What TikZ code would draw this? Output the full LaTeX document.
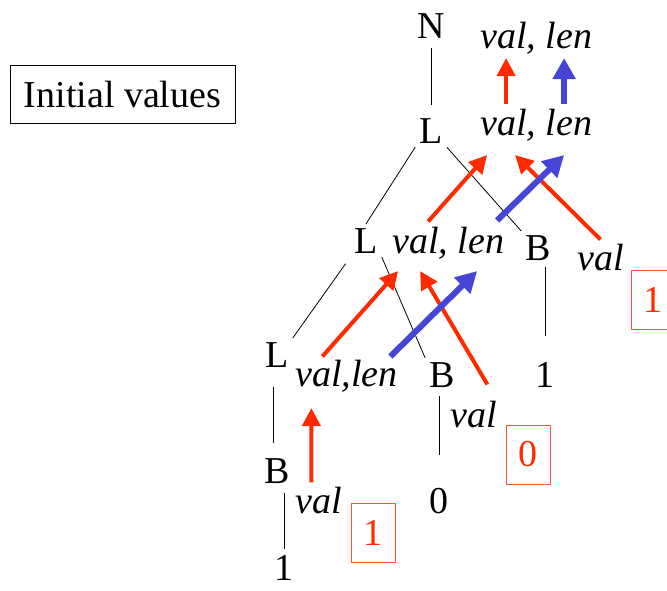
\documentclass[tikz,border=0pt]{standalone}
\usepackage{fontspec}
\setmainfont{Liberation Serif}
\usetikzlibrary{arrows.meta,calc}
\definecolor{hot}{HTML}{FF2A00}
\definecolor{cool}{HTML}{4646D6}
\definecolor{boxred}{HTML}{FF5030}
\tikzset{
  lbl/.style={inner sep=4pt,font=\fontsize{38}{40}\selectfont,anchor=base},
  vv/.style={lbl,font=\fontsize{38}{40}\selectfont\itshape,anchor=base west},
  ibox/.style={draw=black,line width=.8pt,minimum width=225pt,minimum height=58pt,inner sep=0pt,font=\fontsize{38}{40}\selectfont},
  rbox/.style={draw=boxred,line width=.8pt,minimum width=44pt,minimum height=59pt,inner sep=0pt,text=hot,font=\fontsize{38}{40}\selectfont},
  edge/.style={draw=black,line width=.8pt},
  rar/.style={-{Triangle[length=18pt,width=18pt]},draw=hot,line width=4pt},
  bar/.style={-{Triangle[length=21pt,width=22pt]},draw=cool,line width=6pt},
}
\begin{document}
\begin{tikzpicture}[x=1pt,y=-1pt]
  \useasboundingbox (0,0) rectangle (667,590);
  \node[ibox] (init) at (122.5,94) {Initial values};

  % tree nodes
  \node[lbl] (N) at (431,38) {N};
  \node[lbl] (L1) at (431,143) {L};
  \node[lbl] (L2) at (366,253) {L};
  \node[lbl] (B2) at (538,260) {B};
  \node[lbl] (one2) at (545,387) {1};
  \node[lbl] (L3) at (277,367) {L};
  \node[lbl] (B3) at (442,387) {B};
  \node[lbl] (zero3) at (439,513) {0};
  \node[lbl] (B4) at (277,483) {B};
  \node[lbl,inner sep=2pt] (one4) at (284,580) {1};

  % values
  \node[vv] (vl0) at (476,48) {val, len};
  \node[vv] (vl1) at (476,135) {val, len};
  \node[vv] (vl2) at (388,253) {val, len};
  \node[vv] (vl3) at (291,386) {val,len};
  \node[vv] (lv2) at (573,270) {val};
  \node[vv] (lv3) at (446,427) {val};
  \node[vv] (lv4) at (291,513) {val};

  \node[rbox] (bx2) at (653,299.5) {1};
  \node[rbox] (bx3) at (528,454.5) {0};
  \node[rbox] (bx4) at (373,532.5) {1};

  % edges
  \draw[edge,shorten <=6pt,shorten >=9pt] (N) -- (L1);
  \draw[edge] (L1.south west) -- (L2.north);
  \draw[edge] (L1.south east) -- (B2.north west);
  \draw[edge,shorten <=3pt,shorten >=22pt] (B2.south -| one2) -- (one2.north);
  \draw[edge,shorten <=8pt] (L2.south west) -- (L3.north east);
  \draw[edge] (L2.south east) -- (B3.north west);
  \draw[edge,shorten <=16pt,shorten >=11pt] ([xshift=-4pt]L3.south) -- ([xshift=-4pt]B4.north);
  \draw[edge,shorten <=6pt,shorten >=4pt] (B4.south -| one4) -- (one4.north);
  \draw[edge,shorten <=5pt,shorten >=29pt] (B3.south -| zero3) -- (zero3.north);

  % passing values up
  \draw[rar] ([xshift=-30pt]vl1.north) -- ([xshift=-30pt]vl0.south);
  \draw[rar] ($(vl2.north)+(-20,-1)$) -- ($(vl1.south)+(-49,10)$);
  \draw[rar] (lv2.north) -- ($(vl1.south)+(-21,10)$);
  \draw[rar] ($(vl3.north)+(-24,1)$) -- ($(vl2.south)+(-50,8)$);
  \draw[rar] ($(lv3.north)+(14,-12)$) -- ($(vl2.south)+(-28,8)$);
  \draw[rar] ($(lv4.north)+(-7,0)$) -- ($(vl3.south)+(-35,12)$);
  \draw[bar] ([xshift=28pt]vl1.north) -- ([xshift=28pt]vl0.south);
  \draw[bar] ($(vl2.north)+(49,-2)$) -- ($(vl1.south)+(28,10)$);
  \draw[bar] ($(vl3.north)+(44,1)$) -- ($(vl2.south)+(29,8)$);
\end{tikzpicture}
\end{document}
